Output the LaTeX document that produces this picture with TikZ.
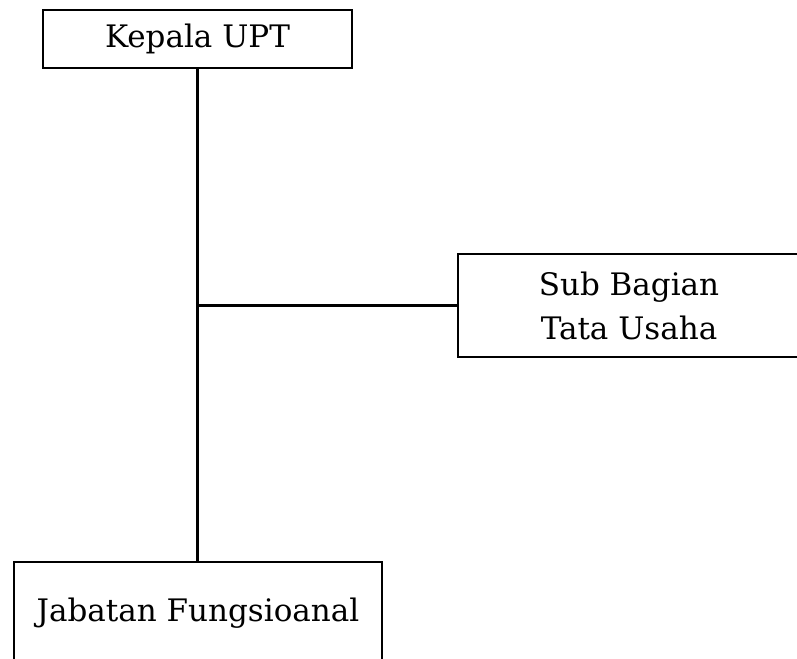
\documentclass[tikz,border=0pt]{standalone}
\usepackage{fontspec}
\setmainfont{DejaVu Serif}
\begin{document}
\begin{tikzpicture}[x=1pt,y=-1pt,
  box/.style={draw,line width=2.5pt,rectangle,inner sep=0pt,align=center,
    font=\fontsize{31}{44}\selectfont},
  link/.style={line width=3pt}]
\useasboundingbox (0,0) rectangle (797,658);
\node[box,minimum width=309pt,minimum height=58pt] (kepala) at (197.5,39) {Kepala UPT};
\node[box,minimum width=342pt,minimum height=103pt] (sub) at (629,305.5) {Sub Bagian\\Tata Usaha};
\node[box,minimum width=368pt,minimum height=103pt] (jab) at (198,613.5) {Jabatan Fungsioanal};
\draw[link] (kepala.south) -- (kepala.south |- jab.north);
\draw[line width=2.5pt] (kepala.south |- sub.west) -- (sub.west);
\end{tikzpicture}
\end{document}
